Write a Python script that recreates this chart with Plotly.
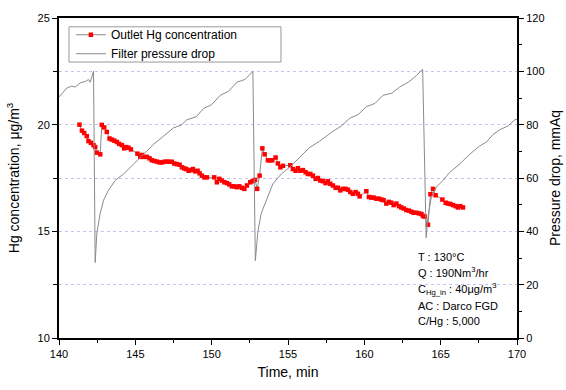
import plotly.graph_objects as go

# Filter pressure drop (mmAq) vs time (min)
p_time = [140.0, 140.29, 140.51, 140.84, 141.06, 141.39, 141.72, 141.93, 142.04, 142.26,
          142.37, 142.48, 142.70, 142.92, 143.24, 143.68, 144.23, 144.88, 145.54, 146.19,
          146.85, 147.50, 148.0, 148.37, 149.0, 149.47, 150.0, 150.56, 151.1, 151.65, 152.2, 152.70,
          152.86, 153.03, 153.25, 153.58, 154.01, 154.56, 155.10, 155.76, 156.41, 157.07,
          157.5, 157.94, 158.5, 159.04, 159.6, 160.13, 160.7, 161.22, 161.8, 162.31, 162.9, 163.41, 163.82,
          164.05, 164.17, 164.39, 164.72, 165.15, 165.59, 166.24, 166.90, 167.55, 168.0, 168.43,
          168.87, 169.4, 169.85, 170.0]
p_drop = [90.4, 92.2, 93.7, 94.5, 94.1, 95.7, 96.2, 96.9, 95.9, 100.0,
          28.3, 39.4, 46.8, 51.7, 55.4, 59.1, 61.5, 65.2, 68.9, 72.6,
          75.7, 78.8, 79.8, 81.8, 83.0, 86.1, 87.5, 91.0, 92.5, 95.9, 97.0, 100.0,
          29.0, 40.0, 46.8, 51.7, 57.8, 61.5, 64.0, 67.7, 71.4, 73.8,
          75.8, 77.5, 79.5, 82.4, 83.8, 86.7, 88.0, 91.0, 91.8, 94.1, 96.0, 98.4, 100.8,
          37.6, 45.6, 52.9, 56.6, 59.1, 62.1, 65.2, 68.9, 72.0, 73.5, 76.3,
          78.1, 79.5, 81.8, 82.0]

# Outlet Hg concentration (ug/m3) vs time (min)
c_time = [141.34, 141.50, 141.65, 141.82, 141.93, 142.09, 142.26, 142.37, 142.48, 142.70,
          142.80, 142.96, 143.13, 143.31, 143.46, 143.62, 143.79, 143.94, 144.12, 144.27,
          144.40, 144.55, 144.71, 145.14, 145.32, 145.43, 145.58, 145.76, 145.93, 146.08,
          146.24, 146.41, 146.59, 146.74, 146.89, 147.06, 147.24, 147.39, 147.55, 147.72,
          147.90, 148.05, 148.20, 148.34, 148.49, 148.64, 148.77, 148.93, 149.08, 149.21,
          149.36, 149.52, 149.69, 150.17, 150.34, 150.50, 150.67, 150.83, 151.00, 151.15,
          151.32, 151.48, 151.65, 151.81, 151.98, 152.14, 152.31, 152.53, 152.68, 152.84,
          152.98, 153.14, 153.32, 153.47, 153.68, 153.84, 153.97, 154.19, 154.34, 154.50,
          154.67, 155.15, 155.32, 155.50, 155.65, 155.81, 155.98, 156.15, 156.30, 156.46,
          156.63, 156.81, 156.96, 157.12, 157.29, 157.46, 157.61, 157.77, 157.94, 158.12,
          158.27, 158.43, 158.60, 158.77, 158.93, 159.08, 159.25, 159.43, 159.58, 159.69,
          160.13, 160.30, 160.46, 160.61, 160.79, 160.96, 161.11, 161.26, 161.44, 161.61,
          161.77, 161.92, 162.10, 162.27, 162.42, 162.58, 162.75, 162.92, 163.08, 163.23,
          163.41, 163.58, 163.74, 163.84, 163.95, 164.17, 164.33, 164.50, 164.67, 165.11,
          165.33, 165.48, 165.64, 165.81, 165.98, 166.13, 166.29, 166.46]
c_hg = [20.00, 19.72, 19.61, 19.46, 19.23, 19.15, 19.04, 18.95, 18.69, 18.61,
        19.99, 19.87, 19.66, 19.35, 19.30, 19.25, 19.19, 19.10, 19.04, 18.89,
        18.95, 18.92, 18.84, 18.64, 18.49, 18.58, 18.49, 18.49, 18.42, 18.33,
        18.30, 18.27, 18.23, 18.23, 18.26, 18.27, 18.26, 18.26, 18.18, 18.15,
        18.12, 18.00, 17.95, 17.92, 17.84, 17.87, 17.92, 17.81, 17.84, 17.72,
        17.61, 17.53, 17.53, 17.53, 17.30, 17.46, 17.38, 17.30, 17.26, 17.20,
        17.11, 17.11, 17.07, 17.11, 17.04, 16.99, 17.15, 17.30, 17.35, 17.41,
        16.99, 17.61, 18.89, 18.61, 18.33, 18.33, 18.33, 18.46, 18.18, 18.00,
        18.07, 18.10, 17.92, 17.84, 17.96, 17.84, 17.87, 17.77, 17.69, 17.69,
        17.61, 17.46, 17.50, 17.38, 17.35, 17.26, 17.35, 17.23, 17.15, 17.04,
        17.04, 16.92, 16.99, 16.99, 16.95, 16.84, 16.76, 16.84, 16.76, 16.64,
        16.88, 16.61, 16.58, 16.58, 16.53, 16.53, 16.49, 16.46, 16.30, 16.38,
        16.34, 16.23, 16.30, 16.18, 16.12, 16.07, 16.00, 15.97, 15.92, 15.87,
        15.87, 15.84, 15.81, 15.72, 15.69, 15.31, 16.74, 16.99, 16.69, 16.49,
        16.34, 16.30, 16.28, 16.23, 16.18, 16.12, 16.18, 16.12]

conditions = ["T : 130°C",
              "Q : 190Nm<sup>3</sup>/hr",
              "C<sub>Hg_in</sub> : 40μg/m<sup>3</sup>",
              "AC : Darco FGD",
              "C/Hg : 5,000"]

FONT = "Arial, Liberation Sans, sans-serif"
GRID = "#c4c4ee"

fig = go.Figure()
fig.add_trace(go.Scatter(
    x=c_time, y=c_hg, mode="lines+markers", name="Outlet Hg concentration",
    line=dict(color="#8a8a8a", width=1),
    marker=dict(symbol="square", size=4.5, color="#ff0000", line=dict(width=0)),
    yaxis="y"))
fig.add_trace(go.Scatter(
    x=p_time, y=p_drop, mode="lines", name="Filter pressure drop",
    line=dict(color="#8a8a8a", width=1), yaxis="y2"))

axis_common = dict(showline=True, linecolor="black", linewidth=2, ticks="outside",
                   ticklen=5, tickwidth=1, tickcolor="black",
                   tickfont=dict(family=FONT, size=11, color="black"), zeroline=False)

fig.update_layout(
    width=566, height=390,
    margin=dict(l=59, r=49, t=17, b=46),
    paper_bgcolor="white", plot_bgcolor="white",
    font=dict(family=FONT, color="black"),
    xaxis=dict(range=[140, 170], dtick=5, tick0=140, showgrid=False, mirror=True,
               minor=dict(dtick=2.5, ticklen=3, ticks="outside", tickcolor="black"),
               title=dict(text="Time, min", font=dict(size=14), standoff=8),
               **axis_common),
    yaxis=dict(range=[10, 25], dtick=5, tick0=10, showgrid=True, gridcolor=GRID,
               griddash="3px,3px", gridwidth=1,
               minor=dict(dtick=2.5, ticklen=4, ticks="outside", tickcolor="black",
                          showgrid=True, gridcolor=GRID, griddash="3px,3px"),
               **axis_common),
    yaxis2=dict(range=[0, 120], dtick=20, tick0=0, overlaying="y", side="right",
                showgrid=False,
                minor=dict(dtick=10, ticklen=3, ticks="outside", tickcolor="black"),
                **axis_common),
    showlegend=True,
    legend=dict(x=0.026, y=0.993, xanchor="left", yanchor="top",
                bgcolor="rgba(0,0,0,0)", borderwidth=0,
                font=dict(family=FONT, size=12), tracegroupgap=0,
                itemwidth=30),
)

# legend frame
fig.add_shape(type="rect", xref="paper", yref="paper",
              x0=0.0218, x1=0.4847, y0=0.8624, y1=0.9725,
              line=dict(color="#999999", width=1), fillcolor="rgba(0,0,0,0)")

# axis titles
fig.add_annotation(text="Hg concentration, μg/m<sup>3</sup>", xref="paper", yref="paper",
                   x=-0.1, y=0.5, textangle=-90, showarrow=False,
                   font=dict(family=FONT, size=14), xanchor="center", yanchor="middle")
fig.add_annotation(text="Pressure drop, mmAq", xref="paper", yref="paper",
                   x=1.083, y=0.5, textangle=-90, showarrow=False,
                   font=dict(family=FONT, size=14), xanchor="center", yanchor="middle")

# condition text
cond_y = [261, 277, 294, 311, 327]
for txt, py in zip(conditions, cond_y):
    fig.add_annotation(text=txt, xref="paper", yref="paper",
                       x=(416 - 59) / 458, y=(344 - py) / 327, showarrow=False,
                       xanchor="left", yanchor="middle", align="left",
                       font=dict(family=FONT, size=11))

fig.write_html("out.html")
